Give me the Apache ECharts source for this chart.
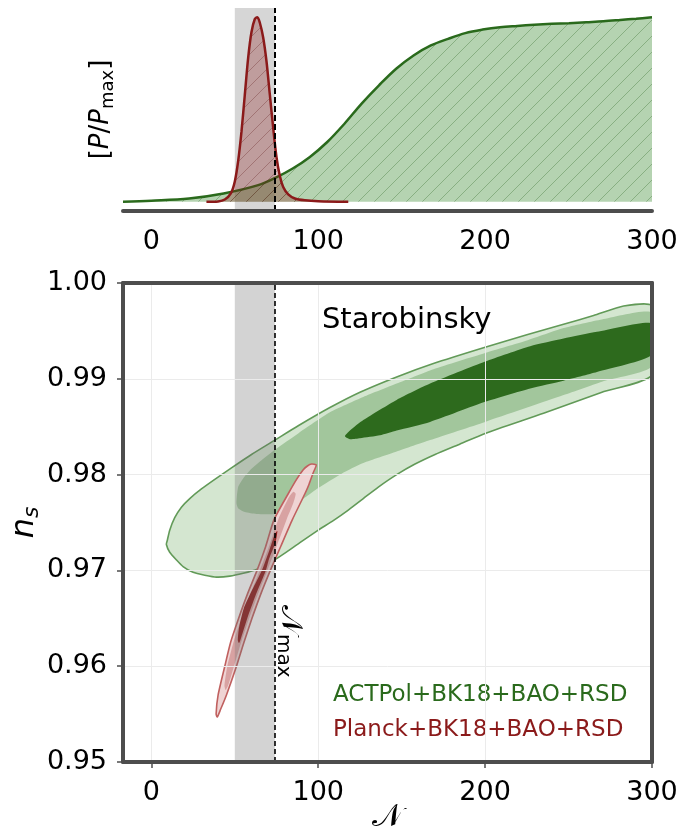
<!DOCTYPE html>
<html>
<head>
<meta charset="utf-8">
<script src="https://cdn.jsdelivr.net/npm/echarts@6/dist/echarts.min.js"></script>
<style>html,body{margin:0;padding:0;background:#fff;}#c{width:680px;height:838px;}</style>
</head>
<body>
<div id="c"></div>
<script>
// ---------- data ----------
const xTicks = [0, 100, 200, 300];
const nsTicks = [0.95, 0.96, 0.97, 0.98, 0.99, 1.00];
const legendNames = ['ACTPol+BK18+BAO+RSD', 'Planck+BK18+BAO+RSD'];

// top panel: 1D posteriors P/Pmax vs N
const topN   = [-17, 0, 22.6, 43.3, 64, 75.4, 84.7, 95, 105.4, 115.7, 126, 136.4, 146.7, 157.1, 167.5, 177.8, 188.1, 198.5, 208.9, 219.2, 229.5, 239.9, 250.2, 260.6, 270.9, 281, 290.5, 300];
const greenP = [0, 0.006, 0.018, 0.045, 0.09, 0.135, 0.18, 0.243, 0.324, 0.423, 0.532, 0.631, 0.721, 0.793, 0.847, 0.883, 0.914, 0.933, 0.946, 0.953, 0.959, 0.964, 0.968, 0.973, 0.978, 0.985, 0.992, 1.0];
const redN   = [33, 40, 44, 47.6, 50, 52, 54, 56, 58, 60, 62, 63.5, 65, 67, 69, 71, 73, 75, 77, 79, 82, 86, 92, 100, 118];
const redP   = [0, 0.002, 0.012, 0.045, 0.11, 0.22, 0.38, 0.58, 0.78, 0.92, 0.99, 1.0, 0.97, 0.89, 0.76, 0.58, 0.40, 0.24, 0.14, 0.08, 0.04, 0.018, 0.008, 0.003, 0];

// excluded band and N_max
const bandN = [50, 74];
const nMax = 74;

// 2D contours (N, n_s)
const actOuter = [[9,0.9727],[9.5,0.9731],[11,0.9742],[14,0.9755],[18,0.9766],[23,0.9775],[30,0.9785],[38,0.9795],[48,0.9807],[60,0.9821],[74,0.9836],[88,0.9851],[107,0.9870],[125,0.9886],[147,0.9902],[169,0.9916],[200,0.9933],[225,0.9946],[247,0.9957],[265,0.9966],[283,0.9976],[300,0.9976],[300,0.9904],[270,0.9886],[235,0.9864],[200,0.9843],[185,0.9832],[170,0.9821],[158,0.9811],[147,0.9800],[136,0.9787],[127,0.9775],[118,0.9763],[109,0.9752],[100,0.9742],[89,0.9729],[80,0.9718],[73,0.9710],[63,0.9701],[55,0.9697],[47,0.9694],[39,0.9693],[32,0.9695],[25,0.9698],[19,0.9704],[15,0.9711],[11,0.9719]];
const actMid = [[51,0.9770],[52,0.9787],[55,0.9796],[60,0.9806],[66,0.9815],[74,0.9826],[88,0.9843],[107,0.9865],[127,0.9881],[147,0.9895],[169,0.9910],[200,0.9927],[225,0.9940],[247,0.9953],[270,0.9962],[300,0.9969],[300,0.9913],[270,0.9897],[247,0.9883],[200,0.9855],[167,0.9836],[147,0.9824],[127,0.9812],[114,0.9801],[100,0.9786],[92,0.9776],[82,0.9766],[73,0.9759],[63,0.9759],[56,0.9761],[52,0.9765]];
const actInner = [[116,0.9840],[119,0.9846],[127,0.9857],[147,0.9878],[167,0.9895],[200,0.9918],[227,0.9934],[247,0.9942],[267,0.9949],[300,0.9958],[300,0.9925],[267,0.9907],[247,0.9898],[227,0.9890],[200,0.9876],[167,0.9855],[147,0.9846],[137,0.9841],[125,0.9838],[119,0.9837]];
const plkOuter = [[98.8,0.9810],[97,0.9802],[94.5,0.9790],[92,0.9780],[84.5,0.9753],[77.5,0.9725],[71.3,0.9700],[65.5,0.9675],[60.3,0.9650],[55.5,0.9625],[51,0.9600],[45,0.9570],[41.5,0.9555],[39.5,0.9547],[38.8,0.9550],[40,0.9570],[44,0.9600],[47.5,0.9625],[52.3,0.9650],[57.5,0.9675],[63.3,0.9700],[68.5,0.9725],[73.5,0.9753],[82,0.9780],[87,0.9795],[91,0.9805],[93.5,0.9809],[96,0.9811]];
const plkMid = [[86.5,0.9780],[85,0.9770],[81,0.9753],[75,0.9725],[69.5,0.9700],[63.8,0.9675],[58.6,0.9650],[53.8,0.9625],[49.5,0.9600],[46,0.9580],[44.5,0.9575],[43.8,0.9580],[45.5,0.9600],[49.2,0.9625],[54,0.9650],[59.2,0.9675],[65,0.9700],[70.5,0.9725],[76,0.9753],[82,0.9775],[85,0.9782]];
const plkInner = [[75.5,0.9741],[74.5,0.9730],[70.5,0.9712],[68.6,0.9700],[62.7,0.9675],[57.5,0.9650],[53.3,0.9627],[52.5,0.9624],[51.8,0.9627],[52.5,0.9640],[55.3,0.9660],[60.5,0.9680],[66.2,0.9700],[70.5,0.9720],[74,0.9738]];

// annotations (data coordinates)
const starLabel = { text: 'Starobinsky', at: [153, 0.9961] };
const nmaxLabel = { text: '{n|𝒩}{s|max}', at: [83, 0.9626] };

// ---------- styling ----------
const FONT = 'DejaVu Sans';
const FRAME = '#4d4d4d';
const GREEN = '#2a6a1c';
const RED = '#8b1a1a';

function hatch(bg, line, size) {
  const c = document.createElement('canvas');
  c.width = size; c.height = size;
  const ctx = c.getContext('2d');
  ctx.fillStyle = bg; ctx.fillRect(0, 0, size, size);
  ctx.strokeStyle = line; ctx.lineWidth = 1;
  ctx.beginPath();
  ctx.moveTo(-1, size + 1); ctx.lineTo(size + 1, -1);
  ctx.moveTo(-size / 2 - 1, size / 2 + 1); ctx.lineTo(size / 2 + 1, -size / 2 - 1);
  ctx.moveTo(size / 2 - 1, size * 1.5 + 1); ctx.lineTo(size * 1.5 + 1, size / 2 - 1);
  ctx.stroke();
  return c;
}
const greenPat = { image: hatch('rgba(60,140,50,0.38)', 'rgba(40,95,30,0.32)', 16), repeat: 'repeat' };
const redPat = { image: hatch('rgba(139,26,26,0.30)', 'rgba(90,20,20,0.30)', 16), repeat: 'repeat' };

function zip(a, b) { return a.map((v, i) => [v, b[i]]); }

function clipRect(cs) { return { type: 'rect', shape: { x: cs.x, y: cs.y, width: cs.width, height: cs.height } }; }

function polySeries(name, pts, fill, stroke, z) {
  return {
    type: 'custom', name: name, xAxisIndex: 1, yAxisIndex: 1, z: z,
    silent: true, data: pts,
    renderItem: function (params, api) {
      if (params.dataIndex !== 0) return null;
      const points = pts.map(p => api.coord(p));
      return {
        type: 'polygon',
        shape: { points: points, smooth: 0.2 },
        style: { fill: fill, stroke: stroke || null, lineWidth: stroke ? 1.6 : 0 },
        clipPath: clipRect(params.coordSys)
      };
    }
  };
}

const tickFont = { fontSize: 27, color: '#000', fontFamily: FONT };

const option = {
  animation: false,
  backgroundColor: '#fff',
  textStyle: { fontFamily: FONT },
  grid: [
    { left: 123, right: 28, top: 8, height: 203, containLabel: false, outerBoundsMode: 'none' },
    { left: 123, right: 28, top: 283, height: 479, containLabel: false, outerBoundsMode: 'none' }
  ],
  legend: {
    left: 323, top: 676, orient: 'vertical', icon: 'none', itemWidth: 0, itemHeight: 0,
    itemGap: 7, selectedMode: false,
    textStyle: { fontSize: 23, lineHeight: 28, fontFamily: FONT },
    data: [
      { name: legendNames[0], textStyle: { color: GREEN } },
      { name: legendNames[1], textStyle: { color: RED } }
    ]
  },
  xAxis: [
    { gridIndex: 0, type: 'value', min: -17, max: 300, z: 10,
      axisLine: { onZero: false, lineStyle: { color: FRAME, width: 4 } },
      axisTick: { show: false },
      axisLabel: Object.assign({ customValues: xTicks, margin: 17 }, tickFont),
      splitLine: { show: false } },
    { gridIndex: 1, type: 'value', min: -17, max: 300, position: 'bottom', z: 10,
      axisLine: { onZero: false, lineStyle: { color: FRAME, width: 4 } },
      axisTick: { customValues: xTicks, length: 6, lineStyle: { color: FRAME, width: 1.5 } },
      axisLabel: Object.assign({ customValues: xTicks, margin: 17 }, tickFont),
      splitLine: { show: true, lineStyle: { color: '#ebebeb', width: 1 } },
      name: '𝒩', nameLocation: 'middle', nameGap: 40, nameMoveOverlap: false,
      nameTextStyle: { fontSize: 32, color: '#000', fontFamily: 'DejaVu Sans, DejaVu Serif' } },
    { gridIndex: 1, type: 'value', min: -17, max: 300, position: 'top', z: 10,
      axisLine: { onZero: false, lineStyle: { color: FRAME, width: 4 } },
      axisTick: { show: false }, axisLabel: { show: false }, splitLine: { show: false } }
  ],
  yAxis: [
    { gridIndex: 0, type: 'value', min: -0.05, max: 1.05,
      axisLine: { show: false }, axisTick: { show: false }, axisLabel: { show: false }, splitLine: { show: false },
      name: '[{i|P}/{i|P}{s|max}]', nameLocation: 'middle', nameRotate: 90, nameGap: 6, nameMoveOverlap: false,
      nameTextStyle: { fontSize: 26, lineHeight: 32, color: '#000', fontFamily: FONT,
        rich: { i: { fontSize: 26, lineHeight: 32, fontStyle: 'italic', fontFamily: FONT },
                s: { fontSize: 18, lineHeight: 12, verticalAlign: 'bottom', fontFamily: FONT } } } },
    { gridIndex: 1, type: 'value', min: 0.95, max: 1.0, interval: 0.01, z: 10,
      axisLine: { onZero: false, lineStyle: { color: FRAME, width: 4 } },
      axisTick: { length: 6, lineStyle: { color: FRAME, width: 1.5 } },
      axisLabel: Object.assign({ margin: 16, formatter: v => v.toFixed(2) }, tickFont),
      splitLine: { show: true, lineStyle: { color: '#ebebeb', width: 1 } },
      name: '{i|n}{s|s}', nameLocation: 'middle', nameRotate: 90, nameGap: 80, nameMoveOverlap: false,
      nameTextStyle: { fontSize: 30, lineHeight: 36, color: '#000', fontFamily: FONT,
        rich: { i: { fontSize: 32, lineHeight: 36, fontStyle: 'italic', fontFamily: FONT },
                s: { fontSize: 22, lineHeight: 14, fontStyle: 'italic', verticalAlign: 'bottom', fontFamily: FONT } } } },
    { gridIndex: 1, type: 'value', min: 0.95, max: 1.0, position: 'right', z: 10,
      axisLine: { onZero: false, lineStyle: { color: FRAME, width: 4 } },
      axisTick: { show: false }, axisLabel: { show: false }, splitLine: { show: false } }
  ],
  series: [
    // top panel band (behind curves)
    { type: 'line', xAxisIndex: 0, yAxisIndex: 0, data: [], z: 1, silent: true,
      markArea: { silent: true, itemStyle: { color: '#d6d6d6' }, data: [[{ xAxis: bandN[0] }, { xAxis: bandN[1] }]] } },
    { type: 'line', name: 'top-green', xAxisIndex: 0, yAxisIndex: 0, data: zip(topN, greenP), smooth: 0.35,
      symbol: 'none', z: 3, silent: true,
      lineStyle: { color: GREEN, width: 2.5 }, areaStyle: { color: greenPat, opacity: 1 } },
    { type: 'line', name: 'top-red', xAxisIndex: 0, yAxisIndex: 0, data: zip(redN, redP), smooth: 0.3,
      symbol: 'none', z: 4, silent: true,
      lineStyle: { color: RED, width: 2.5 }, areaStyle: { color: redPat, opacity: 1 } },
    { type: 'line', xAxisIndex: 0, yAxisIndex: 0, data: [], z: 6, silent: true,
      markLine: { silent: true, symbol: 'none', label: { show: false },
        lineStyle: { color: '#000', type: [6, 3], width: 2 }, data: [{ xAxis: nMax }] } },

    // bottom panel contours
    polySeries(legendNames[0], actOuter, '#d4e6d0', '#629a58', 2),
    polySeries('act-mid', actMid, '#a2c69c', null, 3),
    polySeries('act-inner', actInner, '#2d6a1d', null, 4),
    polySeries(legendNames[1], plkOuter, '#efd4d4', '#c0605f', 5),
    polySeries('plk-mid', plkMid, '#d8a2a2', null, 6),
    polySeries('plk-inner', plkInner, '#8f1c1c', null, 7),

    // bottom band drawn over the contours
    { type: 'custom', xAxisIndex: 1, yAxisIndex: 1, z: 8, silent: true, data: [bandN],
      renderItem: function (params, api) {
        const cs = params.coordSys;
        const a = api.coord([api.value(0), 0.975]);
        const b = api.coord([api.value(1), 0.975]);
        return { type: 'rect', shape: { x: a[0], y: cs.y, width: b[0] - a[0], height: cs.height },
                 style: { fill: 'rgba(110,110,110,0.30)' } };
      } },
    { type: 'line', xAxisIndex: 1, yAxisIndex: 1, data: [], z: 9, silent: true,
      markLine: { silent: true, symbol: 'none', label: { show: false }, z: 9,
        lineStyle: { color: '#000', type: [5, 3], width: 1.6 }, data: [{ xAxis: nMax }] } },

    // annotations
    { type: 'scatter', xAxisIndex: 1, yAxisIndex: 1, symbolSize: 0, z: 11, silent: true,
      itemStyle: { opacity: 1 },
      data: [starLabel.at],
      label: { show: true, position: [0, 0], align: 'center', verticalAlign: 'middle', opacity: 1,
        formatter: starLabel.text, fontSize: 29, color: '#000', fontFamily: FONT } },
    { type: 'scatter', xAxisIndex: 1, yAxisIndex: 1, symbolSize: 0, z: 11, silent: true,
      itemStyle: { opacity: 1 },
      data: [nmaxLabel.at],
      label: { show: true, position: [0, 0], align: 'center', verticalAlign: 'middle', rotate: -90, opacity: 1,
        formatter: nmaxLabel.text, color: '#000',
        rich: { n: { fontSize: 30, lineHeight: 34, color: '#000', fontFamily: 'DejaVu Sans, DejaVu Serif' },
                s: { fontSize: 20, lineHeight: 12, verticalAlign: 'bottom', color: '#000', fontFamily: FONT } } } }
  ]
};

const chart = echarts.init(document.getElementById('c'), null, { renderer: 'canvas' });
chart.setOption(option);
</script>
</body>
</html>
